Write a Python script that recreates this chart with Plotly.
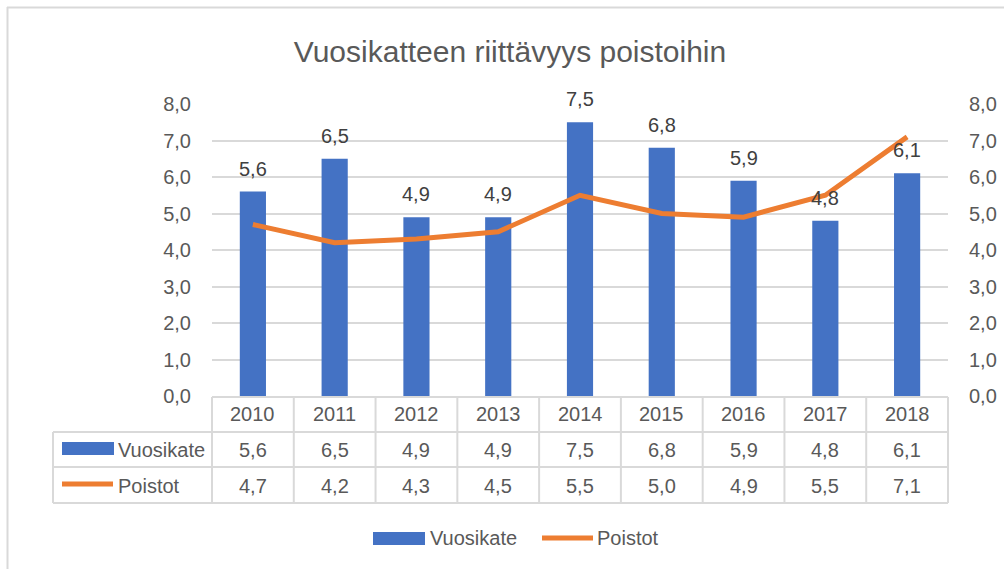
import plotly.graph_objects as go

years = ["2010", "2011", "2012", "2013", "2014", "2015", "2016", "2017", "2018"]
vuosikate = [5.6, 6.5, 4.9, 4.9, 7.5, 6.8, 5.9, 4.8, 6.1]
poistot = [4.7, 4.2, 4.3, 4.5, 5.5, 5.0, 4.9, 5.5, 7.1]
y_ticks = [0, 1, 2, 3, 4, 5, 6, 7, 8]
series_names = ["Vuosikate", "Poistot"]
title_text = "Vuosikatteen riittävyys poistoihin"

BLUE = "#4472C4"
ORANGE = "#ED7D31"
TXT = "#595959"
GRID = "#D9D9D9"
FONT = "Liberation Sans, Arial, sans-serif"
FS = 20

W, H = 1004, 569
L, R, T, B = 212, 948, 104, 396  # plot area in pixels


def px(x):
    return (x - L) / (R - L)


def py(y):
    return (B - y) / (B - T)


def fmt(v):
    return f"{v:.1f}".replace(".", ",")


fig = go.Figure()
fig.add_trace(go.Bar(x=years, y=vuosikate, name=series_names[0], marker_color=BLUE,
                     marker_line_width=0, showlegend=False, hoverinfo="skip"))
fig.add_trace(go.Scatter(x=years, y=poistot, name=series_names[1], mode="lines",
                         line=dict(color=ORANGE, width=5), yaxis="y2",
                         showlegend=False, hoverinfo="skip"))

shapes = []
annotations = []

# chart frame (cropped)
shapes.append(dict(type="line", xref="paper", yref="paper", x0=px(7), x1=px(1004), y0=py(7.5), y1=py(7.5),
                   line=dict(color=GRID, width=2)))
shapes.append(dict(type="line", xref="paper", yref="paper", x0=px(7.5), x1=px(7.5), y0=py(7), y1=py(569),
                   line=dict(color=GRID, width=2)))

# data labels above bars (category index positions)
for i, v in enumerate(vuosikate):
    annotations.append(dict(x=i, y=v, xref="x", yref="y", text=fmt(v), showarrow=False,
                            yanchor="middle", yshift=23, font=dict(size=FS, color="#404040", family=FONT)))

# data table
n = len(years)
colw = (R - L) / n
rows_y = [397, 432, 467, 503]
shapes.append(dict(type="line", xref="paper", yref="paper", x0=px(L), x1=px(R), y0=py(rows_y[0]), y1=py(rows_y[0]),
                   line=dict(color=GRID, width=2)))
for ry in rows_y[1:]:
    shapes.append(dict(type="line", xref="paper", yref="paper", x0=px(53), x1=px(R), y0=py(ry), y1=py(ry),
                       line=dict(color=GRID, width=2)))
shapes.append(dict(type="line", xref="paper", yref="paper", x0=px(53), x1=px(53), y0=py(432), y1=py(503),
                   line=dict(color=GRID, width=2)))
for k in range(n + 1):
    xx = L + k * colw
    shapes.append(dict(type="line", xref="paper", yref="paper", x0=px(xx), x1=px(xx), y0=py(397), y1=py(503),
                       line=dict(color=GRID, width=2)))

row_centers = [414, 450, 486]
for i, yr in enumerate(years):
    annotations.append(dict(x=i, y=py(row_centers[0]), xref="x", yref="paper", text=yr, showarrow=False,
                            yanchor="middle", font=dict(size=FS, color=TXT, family=FONT)))
    annotations.append(dict(x=i, y=py(row_centers[1]), xref="x", yref="paper", text=fmt(vuosikate[i]),
                            showarrow=False, yanchor="middle", font=dict(size=FS, color=TXT, family=FONT)))
    annotations.append(dict(x=i, y=py(row_centers[2]), xref="x", yref="paper", text=fmt(poistot[i]),
                            showarrow=False, yanchor="middle", font=dict(size=FS, color=TXT, family=FONT)))

# table row legend keys
shapes.append(dict(type="rect", xref="paper", yref="paper", x0=px(62), x1=px(114), y0=py(442), y1=py(455),
                   fillcolor=BLUE, line=dict(width=0)))
shapes.append(dict(type="line", xref="paper", yref="paper", x0=px(62), x1=px(113), y0=py(484), y1=py(484),
                   line=dict(color=ORANGE, width=5)))
annotations.append(dict(x=px(116), y=py(row_centers[1]), xref="paper", yref="paper", text=series_names[0],
                        showarrow=False, xanchor="left", yanchor="middle", font=dict(size=FS, color=TXT, family=FONT)))
annotations.append(dict(x=px(116), y=py(row_centers[2]), xref="paper", yref="paper", text=series_names[1],
                        showarrow=False, xanchor="left", yanchor="middle", font=dict(size=FS, color=TXT, family=FONT)))

# bottom legend
shapes.append(dict(type="rect", xref="paper", yref="paper", x0=px(373), x1=px(425), y0=py(532), y1=py(545),
                   fillcolor=BLUE, line=dict(width=0)))
shapes.append(dict(type="line", xref="paper", yref="paper", x0=px(542), x1=px(593), y0=py(538), y1=py(538),
                   line=dict(color=ORANGE, width=5)))
annotations.append(dict(x=px(428), y=py(538), xref="paper", yref="paper", text=series_names[0],
                        showarrow=False, xanchor="left", yanchor="middle", font=dict(size=FS, color=TXT, family=FONT)))
annotations.append(dict(x=px(595), y=py(538), xref="paper", yref="paper", text=series_names[1],
                        showarrow=False, xanchor="left", yanchor="middle", font=dict(size=FS, color=TXT, family=FONT)))

tick_text = [fmt(v) for v in y_ticks]
fig.update_layout(
    width=W, height=H,
    margin=dict(l=L, r=W - R, t=T, b=H - B, pad=0, autoexpand=False),
    paper_bgcolor="white", plot_bgcolor="white",
    separators=", ",
    title=dict(text=title_text, x=510 / W, xref="container", xanchor="center", y=1 - 51 / H, yref="container",
               yanchor="middle", font=dict(size=30, color=TXT, family=FONT)),
    font=dict(family=FONT, color=TXT),
    bargap=0.68,
    xaxis=dict(type="category", showticklabels=False, showgrid=False, zeroline=False, showline=False,
               ticks="", range=[-0.5, n - 0.5], automargin=False),
    yaxis=dict(range=[0, 8], tickvals=y_ticks, ticktext=tick_text, showgrid=True, gridcolor=GRID, gridwidth=1.5,
               zeroline=False, showline=False, ticks="", ticklabelstandoff=20, automargin=False,
               tickfont=dict(size=FS, color=TXT, family=FONT)),
    yaxis2=dict(range=[0, 8], tickvals=y_ticks, ticktext=tick_text, overlaying="y", side="right",
                showgrid=False, zeroline=False, showline=False, ticks="", ticklabelstandoff=20, automargin=False,
                tickfont=dict(size=FS, color=TXT, family=FONT)),
    shapes=shapes,
    annotations=annotations,
)

fig.write_html("out.html", config={"displayModeBar": False},
               post_script="document.body.style.margin='0';")
